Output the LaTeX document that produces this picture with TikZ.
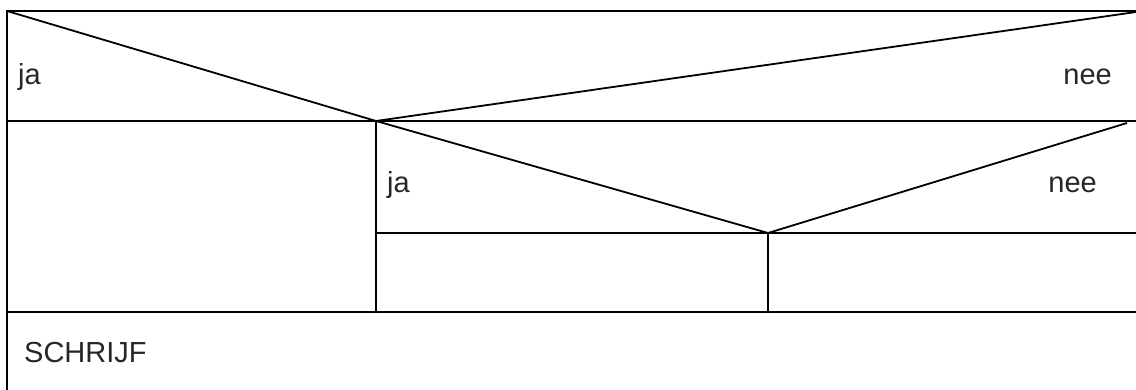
\documentclass[tikz,border=0pt]{standalone}
\usepackage{fontspec}
\setmainfont{Liberation Sans}
\begin{document}
\begin{tikzpicture}[x=1pt,y=-1pt,
  edge/.style={line width=1.8pt, line cap=rect},
  lbl/.style={inner sep=0pt, anchor=base west, text=black!85, font=\fontsize{29}{34}\selectfont},
  lblr/.style={lbl, anchor=base east}]
\useasboundingbox (0,0) rectangle (1136,390);
% key points
\coordinate (tl) at (7,11);
\coordinate (tr) at (1136,11);
\coordinate (trd) at (1136,12);
\coordinate (bl) at (7,390);
\coordinate (m1l) at (7,121);
\coordinate (m1r) at (1136,121);
\coordinate (v1) at (376,121);
\coordinate (v1b) at (376,312);
\coordinate (d2r) at (1127,123);
\coordinate (v2) at (768,233);
\coordinate (v2b) at (768,312);
\coordinate (m2l) at (376,233);
\coordinate (m2r) at (1136,233);
\coordinate (m3l) at (7,312);
\coordinate (m3r) at (1136,312);
% frame and dividers
\draw[edge] (tr) -- (tl) -- (bl);
\draw[edge] (m1l) -- (m1r);
\draw[edge] (m3l) -- (m3r);
\draw[edge] (v1) -- (v1b);
\draw[edge] (m2l) -- (m2r);
\draw[edge] (v2) -- (v2b);
% decision diagonals
\draw[edge, line cap=butt] (tl) -- (v1) -- (trd);
\draw[edge, line cap=butt] (v1) -- (v2) -- (d2r);
% labels
\node[lbl] (ja1) at (18,85) {ja};
\node[lblr] (nee1) at (1112,85) {nee};
\node[lbl] (ja2) at (387,193) {ja};
\node[lblr] (nee2) at (1097,193) {nee};
\node[lbl] (schrijf) at (24,362) {SCHRIJF};
\end{tikzpicture}
\end{document}
